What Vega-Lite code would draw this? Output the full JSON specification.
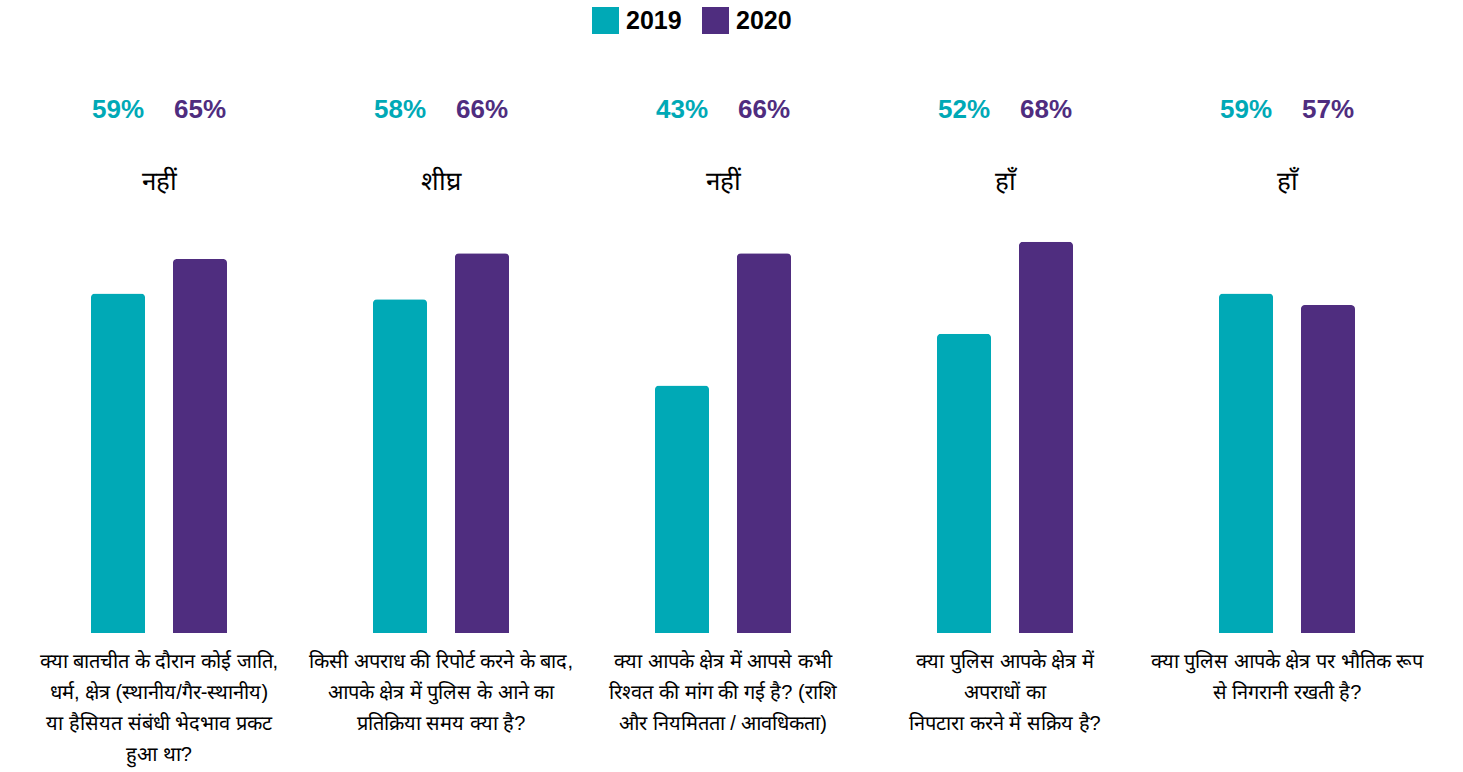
{
  "$schema": "https://vega.github.io/schema/vega-lite/v6.json",
  "width": 1410,
  "height": 633,
  "autosize": {"type": "none"},
  "padding": {"left": 18, "top": 0, "right": 35, "bottom": 139},
  "background": "white",
  "config": {"view": {"stroke": null}, "font": "Liberation Sans"},
  "data": {
    "values": [
      {"question": "क्या बातचीत के दौरान कोई जाति,|धर्म, क्षेत्र (स्थानीय/गैर-स्थानीय)|या हैसियत संबंधी भेदभाव प्रकट|हुआ था?", "answer": "नहीं", "year": "2019", "value": 0.59},
      {"question": "क्या बातचीत के दौरान कोई जाति,|धर्म, क्षेत्र (स्थानीय/गैर-स्थानीय)|या हैसियत संबंधी भेदभाव प्रकट|हुआ था?", "answer": "नहीं", "year": "2020", "value": 0.65},
      {"question": "किसी अपराध की रिपोर्ट करने के बाद,|आपके क्षेत्र में पुलिस के आने का|प्रतिक्रिया समय क्या है?", "answer": "शीघ्र", "year": "2019", "value": 0.58},
      {"question": "किसी अपराध की रिपोर्ट करने के बाद,|आपके क्षेत्र में पुलिस के आने का|प्रतिक्रिया समय क्या है?", "answer": "शीघ्र", "year": "2020", "value": 0.66},
      {"question": "क्या आपके क्षेत्र में आपसे कभी|रिश्वत की मांग की गई है? (राशि|और नियमितता / आवधिकता)", "answer": "नहीं", "year": "2019", "value": 0.43},
      {"question": "क्या आपके क्षेत्र में आपसे कभी|रिश्वत की मांग की गई है? (राशि|और नियमितता / आवधिकता)", "answer": "नहीं", "year": "2020", "value": 0.66},
      {"question": "क्या पुलिस आपके क्षेत्र में|अपराधों का|निपटारा करने में सक्रिय है?", "answer": "हाँ", "year": "2019", "value": 0.52},
      {"question": "क्या पुलिस आपके क्षेत्र में|अपराधों का|निपटारा करने में सक्रिय है?", "answer": "हाँ", "year": "2020", "value": 0.68},
      {"question": "क्या पुलिस आपके क्षेत्र पर भौतिक रूप|से निगरानी रखती है?", "answer": "हाँ", "year": "2019", "value": 0.59},
      {"question": "क्या पुलिस आपके क्षेत्र पर भौतिक रूप|से निगरानी रखती है?", "answer": "हाँ", "year": "2020", "value": 0.57}
    ]
  },
  "encoding": {
    "x": {
      "field": "question",
      "type": "nominal",
      "sort": null,
      "scale": {"paddingInner": 0, "paddingOuter": 0},
      "axis": {
        "title": null,
        "domain": false,
        "ticks": false,
        "labelAngle": 0,
        "labelExpr": "split(datum.label, '|')",
        "labelFontSize": 20,
        "labelLineHeight": 31,
        "labelColor": "#000000",
        "labelPadding": 18,
        "labelLimit": 0,
        "labelBaseline": "top",
        "labelAlign": "center"
      }
    }
  },
  "layer": [
    {
      "mark": {"type": "bar", "cornerRadiusEnd": 4},
      "encoding": {
        "xOffset": {"field": "year", "type": "nominal", "scale": {"paddingInner": 0.34, "paddingOuter": 0.89}},
        "y": {"field": "value", "type": "quantitative", "scale": {"domain": [0, 1.08]}, "axis": null},
        "color": {
          "field": "year",
          "type": "nominal",
          "scale": {"domain": ["2019", "2020"], "range": ["#00A9B6", "#4F2D7F"]},
          "legend": {
            "orient": "none",
            "legendX": 574,
            "legendY": 7,
            "direction": "horizontal",
            "title": null,
            "symbolType": "square",
            "symbolSize": 729,
            "symbolStrokeWidth": 0,
            "labelFontSize": 25,
            "labelFontWeight": "bold",
            "labelColor": "#000000",
            "labelOffset": 7,
            "columnPadding": 20
          }
        }
      }
    },
    {
      "mark": {"type": "text", "fontSize": 26, "fontWeight": "bold", "baseline": "middle"},
      "encoding": {
        "xOffset": {"field": "year", "type": "nominal"},
        "y": {"datum": 0.909},
        "text": {"field": "value", "type": "quantitative", "format": ".0%"},
        "color": {"field": "year", "type": "nominal", "legend": null}
      }
    },
    {
      "transform": [{"filter": "datum.year == '2019'"}],
      "mark": {"type": "text", "fontSize": 26, "baseline": "middle", "color": "#000000"},
      "encoding": {
        "y": {"datum": 0.784},
        "text": {"field": "answer"}
      }
    }
  ]
}
